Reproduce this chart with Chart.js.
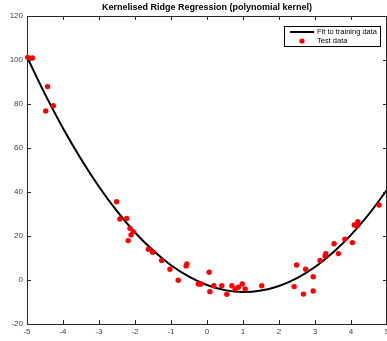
<!DOCTYPE html>
<html>
<head>
<meta charset="utf-8">
<script src="https://cdn.jsdelivr.net/npm/chart.js@4.4.1/dist/chart.umd.min.js"></script>
<style>
  html, body { margin: 0; padding: 0; background: #fff; overflow: hidden; }
  #wrap { width: 387px; height: 341px; overflow: hidden; }
</style>
</head>
<body>
<div id="wrap"><canvas id="krr" width="395" height="341"></canvas></div>
<script>
// Courbe ajustée
const fitX = [-5, -4.5, -4, -3.5, -3, -2.5, -2, -1.5, -1, -0.5, 0, 0.5, 1, 1.5, 2, 2.5, 3, 3.5, 4, 4.5, 5];
const fitY = [101.4, 84.5, 69.0, 55.0, 42.4, 31.3, 21.6, 13.5, 6.7, 1.5, -2.3, -4.6, -5.5, -4.8, -2.7, 0.9, 5.9, 12.5, 20.5, 30.0, 41.0];

// Données de test
const testX = [-4.98, -4.85, -4.43, -4.48, -4.27,
  -2.51, -2.42, -2.23, -2.14, -2.05, -2.11, -2.19, -1.63, -1.51, -1.26, -1.03, -0.80, -0.58, -0.56,
  -0.24, -0.17, 0.06, 0.08, 0.19, 0.41, 0.55, 0.69, 0.78, 0.87, 0.98, 1.06, 1.52,
  2.49, 2.42, 2.68, 2.74, 2.95, 2.95, 3.14, 3.28, 3.30, 3.53, 3.65, 3.83, 4.04, 4.09, 4.19, 4.17, 4.78];
const testY = [101.2, 100.9, 87.9, 76.8, 79.2,
  35.6, 27.7, 28.0, 23.5, 22.0, 20.5, 17.9, 14.0, 12.6, 8.9, 4.9, -0.1, 6.4, 7.3,
  -1.8, -1.8, 3.5, -5.3, -2.6, -2.6, -6.5, -2.6, -4.1, -3.3, -1.8, -4.1, -2.6,
  6.8, -3.0, -6.4, 4.9, 1.5, -5.0, 8.9, 10.9, 12.0, 16.5, 12.0, 18.6, 17.0, 25.0, 26.5, 24.5, 34.1];

const xTicks = [-5, -4, -3, -2, -1, 0, 1, 2, 3, 4, 5];
const yTicks = [-20, 0, 20, 40, 60, 80, 100, 120];
const titre = 'Kernelised Ridge Regression (polynomial kernel)';

const couleurAxe = '#262626';

// Cadre, graduations vers l'intérieur, titre et légende
const cadrePlugin = {
  id: 'cadre',
  afterDraw(chart) {
    const ctx = chart.ctx;
    const a = chart.chartArea;
    const sx = chart.scales.x, sy = chart.scales.y;
    ctx.save();
    ctx.strokeStyle = couleurAxe;
    ctx.lineWidth = 1;
    ctx.beginPath();
    ctx.moveTo(a.left, a.top + 0.5); ctx.lineTo(a.right, a.top + 0.5);
    ctx.moveTo(a.right - 0.5, a.top); ctx.lineTo(a.right - 0.5, a.bottom);
    xTicks.forEach(v => {
      const px = Math.round(sx.getPixelForValue(v)) + 0.5;
      ctx.moveTo(px, a.bottom); ctx.lineTo(px, a.bottom - 4);
      ctx.moveTo(px, a.top); ctx.lineTo(px, a.top + 4);
    });
    yTicks.forEach(v => {
      const py = Math.round(sy.getPixelForValue(v)) + 0.5;
      ctx.moveTo(a.left, py); ctx.lineTo(a.left + 4, py);
      ctx.moveTo(a.right, py); ctx.lineTo(a.right - 4, py);
    });
    ctx.stroke();

    // Titre centré sur la zone du graphique
    ctx.fillStyle = '#000';
    ctx.font = 'bold 9px "Liberation Sans", Arial, sans-serif';
    ctx.textAlign = 'center';
    ctx.textBaseline = 'middle';
    ctx.fillText(titre, (a.left + a.right) / 2, 8);

    // Légende
    const lx = 284.5, ly = 26.5, lw = 96, lh = 20;
    ctx.fillStyle = '#fff';
    ctx.fillRect(lx, ly, lw, lh);
    ctx.strokeStyle = '#000';
    ctx.lineWidth = 1;
    ctx.strokeRect(lx, ly, lw, lh);
    ctx.strokeStyle = '#000';
    ctx.lineWidth = 2;
    ctx.beginPath();
    ctx.moveTo(290, 32); ctx.lineTo(314, 32);
    ctx.stroke();
    ctx.fillStyle = '#ff0000';
    ctx.beginPath();
    ctx.arc(302, 41, 2.6, 0, Math.PI * 2);
    ctx.fill();
    ctx.fillStyle = '#000';
    ctx.font = '7.5px "Liberation Sans", Arial, sans-serif';
    ctx.textAlign = 'left';
    ctx.fillText(chart.data.datasets[0].label, 317, 32);
    ctx.fillText(chart.data.datasets[1].label, 317, 40.5);
    ctx.restore();
  }
};

new Chart(document.getElementById('krr'), {
  type: 'scatter',
  data: {
    datasets: [
      {
        label: 'Fit to training data',
        data: fitX.map((x, i) => ({ x: x, y: fitY[i] })),
        showLine: true,
        borderColor: '#000',
        borderWidth: 2,
        pointRadius: 0,
        tension: 0.4,
        order: 2
      },
      {
        label: 'Test data',
        data: testX.map((x, i) => ({ x: x, y: testY[i] })),
        backgroundColor: '#ff0000',
        borderWidth: 0,
        pointRadius: 2.7,
        clip: false,
        order: 1
      }
    ]
  },
  options: {
    responsive: false,
    animation: false,
    devicePixelRatio: 1,
    layout: { padding: { top: 16, right: 8, bottom: 0, left: 0 } },
    plugins: { legend: { display: false }, title: { display: false }, tooltip: { enabled: false } },
    scales: {
      x: {
        type: 'linear',
        min: -5, max: 5,
        afterBuildTicks: s => { s.ticks = xTicks.map(v => ({ value: v })); },
        afterFit: s => { s.height = 17; },
        grid: { display: false, drawTicks: false },
        border: { display: true, color: couleurAxe, width: 1 },
        ticks: { color: '#404040', font: { family: '"Liberation Sans", Arial', size: 8 }, padding: 3, maxRotation: 0 }
      },
      y: {
        type: 'linear',
        min: -20, max: 120,
        afterBuildTicks: s => { s.ticks = yTicks.map(v => ({ value: v })); },
        afterFit: s => { s.width = 27; },
        grid: { display: false, drawTicks: false },
        border: { display: true, color: couleurAxe, width: 1 },
        ticks: { color: '#404040', font: { family: '"Liberation Sans", Arial', size: 8 }, padding: 4 }
      }
    }
  },
  plugins: [cadrePlugin]
});
</script>
</body>
</html>
